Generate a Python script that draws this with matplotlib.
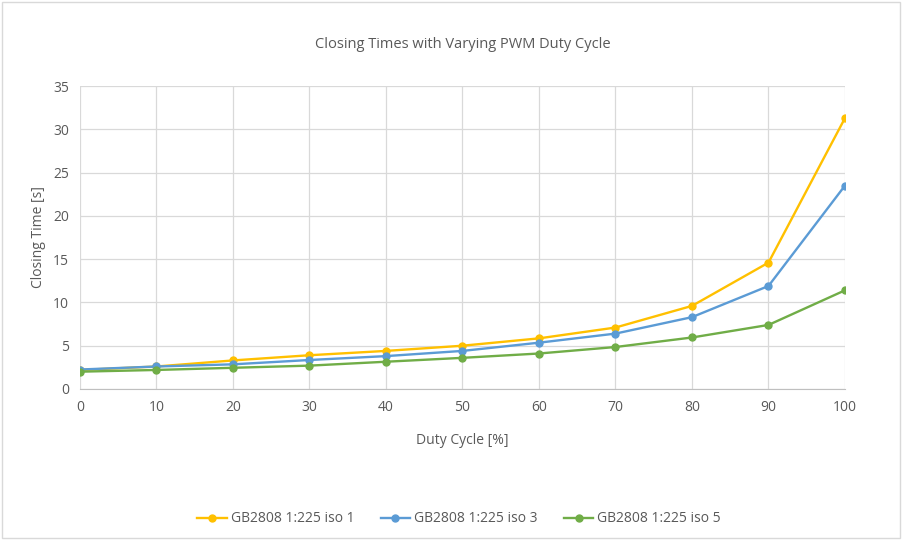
import matplotlib
matplotlib.use("Agg")
import matplotlib.pyplot as plt
from matplotlib.patches import Rectangle

plt.rcParams['font.family'] = ['Open Sans', 'DejaVu Sans']

duty_cycle = [0, 10, 20, 30, 40, 50, 60, 70, 80, 90, 100]
iso_1 = [2.2, 2.6, 3.3, 3.9, 4.4, 5.0, 5.85, 7.1, 9.6, 14.6, 31.3]
iso_3 = [2.25, 2.6, 2.85, 3.35, 3.8, 4.4, 5.35, 6.4, 8.3, 11.9, 23.5]
iso_5 = [2.0, 2.2, 2.45, 2.7, 3.15, 3.6, 4.1, 4.85, 5.95, 7.4, 11.4]

series = [
    ("GB2808 1:225 iso 1", iso_1, "#FFC000"),
    ("GB2808 1:225 iso 3", iso_3, "#5B9BD5"),
    ("GB2808 1:225 iso 5", iso_5, "#70AD47"),
]

text_color = "#595959"
grid_color = "#D9D9D9"

fig = plt.figure(figsize=(9.04, 5.4), dpi=100)
ax = fig.add_axes([80 / 904, 1 - 389 / 540, 765 / 904, 303 / 540])

for label, values, color in series:
    ax.plot(duty_cycle, values, color=color, linewidth=1.7, marker="o",
            markersize=5, label=label)

ax.set_xlim(0, 100)
ax.set_ylim(0, 35)
ax.set_xticks(range(0, 101, 10))
ax.set_yticks(range(0, 36, 5))
ax.grid(True, color=grid_color, linewidth=0.9)
ax.set_axisbelow(True)
for side in ("top", "right", "left"):
    ax.spines[side].set_visible(False)
ax.spines["bottom"].set_color("#BFBFBF")
ax.tick_params(length=0, colors=text_color, labelsize=10, pad=8)

ax.set_xlabel("Duty Cycle [%]", color=text_color, fontsize=10, labelpad=13)
ax.set_ylabel("Closing Time [s]", color=text_color, fontsize=10, labelpad=5)
ax.set_title("Closing Times with Varying PWM Duty Cycle", color=text_color,
             fontsize=10.5, pad=27)

fig.legend(loc="center", bbox_to_anchor=(0.508, 1 - 519 / 540), ncol=3,
           frameon=False, fontsize=10, labelcolor=text_color,
           handlelength=2.1, columnspacing=1.9, handletextpad=0.3)

fig.patches.append(Rectangle((0.002, 0.003), 0.994, 0.994, transform=fig.transFigure,
                             fill=False, edgecolor=grid_color, linewidth=1))

fig.savefig("out.png", dpi=100)
